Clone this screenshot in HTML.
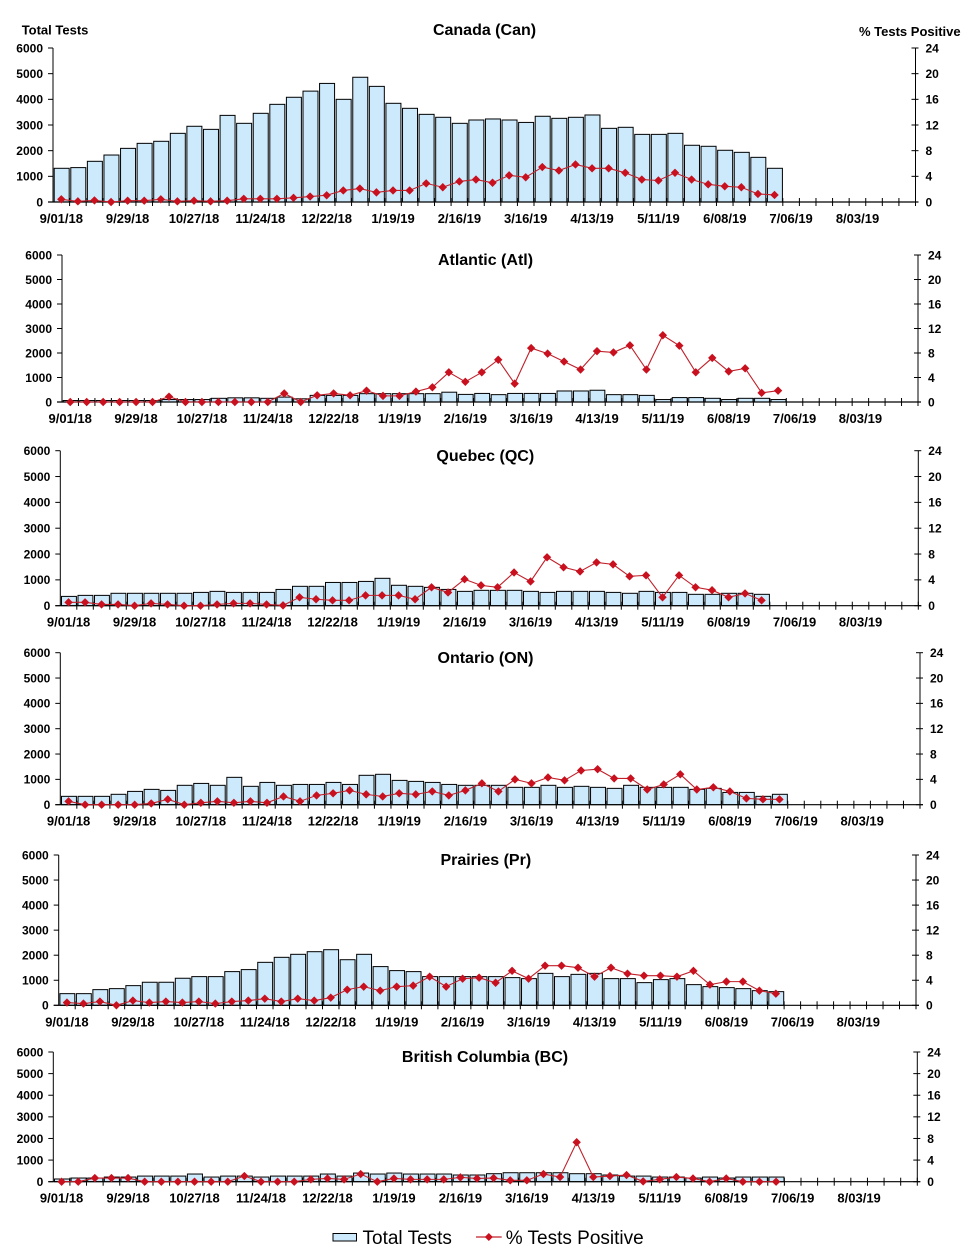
<!DOCTYPE html>
<html>
<head>
<meta charset="utf-8">
<style>
  html,body{margin:0;padding:0;background:#fff;}
  svg{display:block;}
  text{font-family:"Liberation Sans",Arial,sans-serif;fill:#000;}
  .b{font-weight:bold;}
  .yl{font-size:12px;font-weight:bold;text-anchor:end;}
  .yr{font-size:12px;font-weight:bold;text-anchor:start;}
  .xl{font-size:13px;font-weight:bold;text-anchor:middle;}
  .tt{font-size:16px;font-weight:bold;text-anchor:middle;}
</style>
</head>
<body>
<svg id="chart" width="971" height="1259" viewBox="0 0 971 1259" xmlns="http://www.w3.org/2000/svg">
<rect x="0" y="0" width="971" height="1259" fill="#fff"/>
<g id="shapes"></g>

<!-- Panel 1 Canada -->
<text class="b" x="21.7" y="34.5" font-size="13">Total Tests</text>
<text class="b" x="859" y="36" font-size="13">% Tests Positive</text>
<text class="tt" x="484.5" y="35">Canada (Can)</text>
<g class="yl">
<text class="yl" x="43" y="206.3">0</text><text class="yl" x="43" y="180.6">1000</text><text class="yl" x="43" y="155">2000</text><text class="yl" x="43" y="129.3">3000</text><text class="yl" x="43" y="103.6">4000</text><text class="yl" x="43" y="78">5000</text><text class="yl" x="43" y="52.3">6000</text>
</g>
<text class="yr" x="925.5" y="206.3">0</text><text class="yr" x="925.5" y="180.6">4</text><text class="yr" x="925.5" y="155">8</text><text class="yr" x="925.5" y="129.3">12</text><text class="yr" x="925.5" y="103.6">16</text><text class="yr" x="925.5" y="78">20</text><text class="yr" x="925.5" y="52.3">24</text>
<text class="xl" x="61.3" y="223">9/01/18</text><text class="xl" x="127.6" y="223">9/29/18</text><text class="xl" x="194" y="223">10/27/18</text><text class="xl" x="260.3" y="223">11/24/18</text><text class="xl" x="326.7" y="223">12/22/18</text><text class="xl" x="393" y="223">1/19/19</text><text class="xl" x="459.4" y="223">2/16/19</text><text class="xl" x="525.7" y="223">3/16/19</text><text class="xl" x="592.1" y="223">4/13/19</text><text class="xl" x="658.4" y="223">5/11/19</text><text class="xl" x="724.8" y="223">6/08/19</text><text class="xl" x="791.1" y="223">7/06/19</text><text class="xl" x="857.5" y="223">8/03/19</text>

<!-- Panel 2 Atlantic -->
<text class="tt" x="485.5" y="265">Atlantic (Atl)</text>
<text class="yl" x="52" y="406.3">0</text><text class="yl" x="52" y="381.8">1000</text><text class="yl" x="52" y="357.3">2000</text><text class="yl" x="52" y="332.8">3000</text><text class="yl" x="52" y="308.3">4000</text><text class="yl" x="52" y="283.8">5000</text><text class="yl" x="52" y="259.3">6000</text>
<text class="yr" x="928" y="406.3">0</text><text class="yr" x="928" y="381.8">4</text><text class="yr" x="928" y="357.3">8</text><text class="yr" x="928" y="332.8">12</text><text class="yr" x="928" y="308.3">16</text><text class="yr" x="928" y="283.8">20</text><text class="yr" x="928" y="259.3">24</text>
<text class="xl" x="70.2" y="423">9/01/18</text><text class="xl" x="136.1" y="423">9/29/18</text><text class="xl" x="201.9" y="423">10/27/18</text><text class="xl" x="267.8" y="423">11/24/18</text><text class="xl" x="333.6" y="423">12/22/18</text><text class="xl" x="399.5" y="423">1/19/19</text><text class="xl" x="465.3" y="423">2/16/19</text><text class="xl" x="531.2" y="423">3/16/19</text><text class="xl" x="597" y="423">4/13/19</text><text class="xl" x="662.9" y="423">5/11/19</text><text class="xl" x="728.7" y="423">6/08/19</text><text class="xl" x="794.6" y="423">7/06/19</text><text class="xl" x="860.4" y="423">8/03/19</text>

<!-- Panel 3 Quebec -->
<text class="tt" x="485.3" y="461">Quebec (QC)</text>
<text class="yl" x="50.3" y="610">0</text><text class="yl" x="50.3" y="584.2">1000</text><text class="yl" x="50.3" y="558.3">2000</text><text class="yl" x="50.3" y="532.5">3000</text><text class="yl" x="50.3" y="506.7">4000</text><text class="yl" x="50.3" y="480.8">5000</text><text class="yl" x="50.3" y="455">6000</text>
<text class="yr" x="928.3" y="610">0</text><text class="yr" x="928.3" y="584.2">4</text><text class="yr" x="928.3" y="558.3">8</text><text class="yr" x="928.3" y="532.5">12</text><text class="yr" x="928.3" y="506.7">16</text><text class="yr" x="928.3" y="480.8">20</text><text class="yr" x="928.3" y="455">24</text>
<text class="xl" x="68.6" y="626.7">9/01/18</text><text class="xl" x="134.6" y="626.7">9/29/18</text><text class="xl" x="200.6" y="626.7">10/27/18</text><text class="xl" x="266.6" y="626.7">11/24/18</text><text class="xl" x="332.6" y="626.7">12/22/18</text><text class="xl" x="398.6" y="626.7">1/19/19</text><text class="xl" x="464.6" y="626.7">2/16/19</text><text class="xl" x="530.6" y="626.7">3/16/19</text><text class="xl" x="596.6" y="626.7">4/13/19</text><text class="xl" x="662.6" y="626.7">5/11/19</text><text class="xl" x="728.6" y="626.7">6/08/19</text><text class="xl" x="794.6" y="626.7">7/06/19</text><text class="xl" x="860.6" y="626.7">8/03/19</text>

<!-- Panel 4 Ontario -->
<text class="tt" x="485.5" y="663">Ontario (ON)</text>
<text class="yl" x="50.3" y="809">0</text><text class="yl" x="50.3" y="783.7">1000</text><text class="yl" x="50.3" y="758.3">2000</text><text class="yl" x="50.3" y="733">3000</text><text class="yl" x="50.3" y="707.7">4000</text><text class="yl" x="50.3" y="682.3">5000</text><text class="yl" x="50.3" y="657">6000</text>
<text class="yr" x="930" y="809">0</text><text class="yr" x="930" y="783.7">4</text><text class="yr" x="930" y="758.3">8</text><text class="yr" x="930" y="733">12</text><text class="yr" x="930" y="707.7">16</text><text class="yr" x="930" y="682.3">20</text><text class="yr" x="930" y="657">24</text>
<text class="xl" x="68.6" y="825.7">9/01/18</text><text class="xl" x="134.7" y="825.7">9/29/18</text><text class="xl" x="200.8" y="825.7">10/27/18</text><text class="xl" x="267" y="825.7">11/24/18</text><text class="xl" x="333.1" y="825.7">12/22/18</text><text class="xl" x="399.2" y="825.7">1/19/19</text><text class="xl" x="465.4" y="825.7">2/16/19</text><text class="xl" x="531.5" y="825.7">3/16/19</text><text class="xl" x="597.6" y="825.7">4/13/19</text><text class="xl" x="663.8" y="825.7">5/11/19</text><text class="xl" x="729.9" y="825.7">6/08/19</text><text class="xl" x="796" y="825.7">7/06/19</text><text class="xl" x="862.2" y="825.7">8/03/19</text>

<!-- Panel 5 Prairies -->
<text class="tt" x="485.8" y="865">Prairies (Pr)</text>
<text class="yl" x="48.7" y="1009.6">0</text><text class="yl" x="48.7" y="984.6">1000</text><text class="yl" x="48.7" y="959.5">2000</text><text class="yl" x="48.7" y="934.5">3000</text><text class="yl" x="48.7" y="909.4">4000</text><text class="yl" x="48.7" y="884.4">5000</text><text class="yl" x="48.7" y="859.3">6000</text>
<text class="yr" x="926" y="1009.6">0</text><text class="yr" x="926" y="984.6">4</text><text class="yr" x="926" y="959.5">8</text><text class="yr" x="926" y="934.5">12</text><text class="yr" x="926" y="909.4">16</text><text class="yr" x="926" y="884.4">20</text><text class="yr" x="926" y="859.3">24</text>
<text class="xl" x="66.9" y="1026.3">9/01/18</text><text class="xl" x="132.9" y="1026.3">9/29/18</text><text class="xl" x="198.8" y="1026.3">10/27/18</text><text class="xl" x="264.8" y="1026.3">11/24/18</text><text class="xl" x="330.7" y="1026.3">12/22/18</text><text class="xl" x="396.7" y="1026.3">1/19/19</text><text class="xl" x="462.6" y="1026.3">2/16/19</text><text class="xl" x="528.6" y="1026.3">3/16/19</text><text class="xl" x="594.5" y="1026.3">4/13/19</text><text class="xl" x="660.5" y="1026.3">5/11/19</text><text class="xl" x="726.4" y="1026.3">6/08/19</text><text class="xl" x="792.4" y="1026.3">7/06/19</text><text class="xl" x="858.3" y="1026.3">8/03/19</text>

<!-- Panel 6 BC -->
<text class="tt" x="485" y="1062">British Columbia (BC)</text>
<text class="yl" x="43.3" y="1186">0</text><text class="yl" x="43.3" y="1164.4">1000</text><text class="yl" x="43.3" y="1142.8">2000</text><text class="yl" x="43.3" y="1121.2">3000</text><text class="yl" x="43.3" y="1099.5">4000</text><text class="yl" x="43.3" y="1077.9">5000</text><text class="yl" x="43.3" y="1056.3">6000</text>
<text class="yr" x="927.3" y="1186">0</text><text class="yr" x="927.3" y="1164.4">4</text><text class="yr" x="927.3" y="1142.8">8</text><text class="yr" x="927.3" y="1121.2">12</text><text class="yr" x="927.3" y="1099.5">16</text><text class="yr" x="927.3" y="1077.9">20</text><text class="yr" x="927.3" y="1056.3">24</text>
<text class="xl" x="61.6" y="1202.7">9/01/18</text><text class="xl" x="128.1" y="1202.7">9/29/18</text><text class="xl" x="194.5" y="1202.7">10/27/18</text><text class="xl" x="261" y="1202.7">11/24/18</text><text class="xl" x="327.5" y="1202.7">12/22/18</text><text class="xl" x="393.9" y="1202.7">1/19/19</text><text class="xl" x="460.4" y="1202.7">2/16/19</text><text class="xl" x="526.8" y="1202.7">3/16/19</text><text class="xl" x="593.3" y="1202.7">4/13/19</text><text class="xl" x="659.8" y="1202.7">5/11/19</text><text class="xl" x="726.2" y="1202.7">6/08/19</text><text class="xl" x="792.7" y="1202.7">7/06/19</text><text class="xl" x="859.1" y="1202.7">8/03/19</text>

<!-- Legend -->
<rect x="333" y="1233.5" width="23.5" height="7.5" fill="#cdeafc" stroke="#000" stroke-width="1"/>
<text x="362.5" y="1244" font-size="19">Total Tests</text>
<line x1="476" y1="1237" x2="501.7" y2="1237" stroke="#c0202a" stroke-width="1.2"/>
<polygon points="488.8,1233 492.8,1237 488.8,1241 484.8,1237" fill="#c8101e"/>
<text x="505.7" y="1244" font-size="19">% Tests Positive</text>
</svg>

<script>
(function(){
  var NS="http://www.w3.org/2000/svg";
  var g=document.getElementById("shapes");
  function el(tag,attrs,parent){var e=document.createElementNS(NS,tag);for(var k in attrs)e.setAttribute(k,attrs[k]);(parent||g).appendChild(e);return e;}
  var panels=[
    {L:53,R:915.5,T:48,B:202,
     bars:[1313,1340,1585,1830,2090,2285,2365,2675,2950,2830,3375,3065,3455,3805,4080,4320,4620,4000,4860,4505,3845,3650,3415,3300,3065,3195,3235,3195,3100,3340,3260,3300,3390,2870,2910,2635,2635,2675,2210,2170,2015,1935,1740,1313],
     pct:[0.42,0.1,0.25,0,0.2,0.2,0.42,0.1,0.2,0.1,0.2,0.5,0.5,0.5,0.65,0.85,1.05,1.8,2.1,1.5,1.8,1.8,2.9,2.3,3.2,3.5,3.0,4.15,3.85,5.45,4.9,5.85,5.25,5.25,4.55,3.5,3.35,4.55,3.5,2.75,2.45,2.3,1.25,1.1]},
    {L:62,R:918,T:255,B:402,
     bars:[60,60,60,60,60,60,100,100,100,150,170,170,150,200,130,270,270,270,340,340,340,340,340,400,310,350,300,350,350,350,450,450,480,300,300,270,100,180,180,150,100,150,150,100],
     pct:[0,0,0,0,0,0,0.87,0,0,0,0,0,0,1.4,0,1.1,1.4,1.1,1.85,1.0,1.0,1.7,2.4,4.85,3.3,4.85,6.9,3.0,8.8,7.9,6.6,5.3,8.3,8.1,9.25,5.3,10.9,9.2,4.85,7.2,5.0,5.5,1.5,1.85]},
    {L:60.3,R:918.3,T:450.7,B:605.7,
     bars:[360,400,400,480,480,480,480,480,515,555,515,515,515,630,750,750,900,900,940,1060,790,750,710,630,555,595,595,595,555,515,555,555,555,515,480,555,515,515,440,440,480,480,440],
     pct:[0.52,0.52,0.2,0.2,0,0.36,0.2,0,0,0.2,0.36,0.36,0.2,0.05,1.3,1.0,0.83,0.83,1.6,1.6,1.6,1.0,2.85,2.05,4.1,3.15,2.85,5.15,3.75,7.5,5.95,5.3,6.7,6.4,4.55,4.7,1.3,4.7,2.85,2.4,1.3,1.9,0.83]},
    {L:60.3,R:920,T:652.7,B:804.7,
     bars:[330,330,330,410,525,605,565,765,840,765,1080,725,880,765,800,800,880,800,1160,1200,960,920,880,800,765,765,765,685,685,765,685,725,685,645,765,685,685,685,605,645,485,485,330,410],
     pct:[0.53,0,0,0,0,0.2,0.85,0,0.3,0.53,0.3,0.53,0.3,1.3,0.53,1.47,1.8,2.26,1.63,1.3,1.8,1.63,2.1,1.47,2.26,3.37,2.1,4.0,3.37,4.3,3.85,5.4,5.6,4.15,4.15,2.4,3.2,4.8,2.4,2.75,2.1,1.0,0.85,0.85]},
    {L:58.7,R:916,T:855,B:1005.3,
     bars:[465,465,625,665,785,920,920,1080,1145,1145,1345,1425,1715,1915,2035,2140,2220,1820,2035,1545,1385,1345,1145,1145,1145,1145,1145,1105,1065,1275,1145,1235,1275,1065,1065,905,1025,1065,825,745,705,665,585,545],
     pct:[0.43,0.27,0.6,0,0.75,0.43,0.6,0.43,0.6,0.27,0.6,0.75,1.06,0.6,1.06,0.75,1.22,2.5,2.98,2.34,2.98,3.14,4.57,2.98,4.25,4.41,3.6,5.5,4.25,6.33,6.33,6.0,4.57,6.0,5.05,4.73,4.73,4.57,5.5,3.3,3.78,3.78,2.34,1.86]},
    {L:53.3,R:917.3,T:1052,B:1181.7,
     bars:[125,170,170,215,215,260,260,260,355,215,260,260,215,260,260,260,355,260,400,355,400,355,355,355,310,310,370,415,415,415,415,370,370,310,260,260,215,215,170,215,170,215,215,215],
     pct:[0,0,0.68,0.68,0.68,0,0,0,0,0,0,1.05,0,0,0,0.43,0.6,0.43,1.42,0,0.6,0.43,0.43,0.43,0.8,0.6,0.68,0.25,0.25,1.42,0.86,7.3,0.86,1.05,1.23,0.06,0.43,0.86,0.6,0,0.6,0,0,0]}
  ];
  panels.forEach(function(p){
    var w=(p.R-p.L)/52, H=p.B-p.T, i;
    for(i=0;i<p.bars.length;i++){
      var h=p.bars[i]/6000*H;
      el("rect",{x:(p.L+i*w+1.2).toFixed(2),y:(p.B-h).toFixed(2),width:(w-1.6).toFixed(2),height:h.toFixed(2),fill:"#cdeafc",stroke:"#000","stroke-width":"1"});
    }
    el("line",{x1:p.L,y1:p.T,x2:p.L,y2:p.B,stroke:"#000","stroke-width":"1"});
    el("line",{x1:p.R,y1:p.T,x2:p.R,y2:p.B,stroke:"#000","stroke-width":"1"});
    el("line",{x1:p.L-5,y1:p.B,x2:p.R+3,y2:p.B,stroke:"#000","stroke-width":"1.2"});
    for(i=0;i<=6;i++){
      var y=p.B-i*H/6;
      el("line",{x1:p.L-5,y1:y,x2:p.L,y2:y,stroke:"#000","stroke-width":"1"});
      el("line",{x1:p.R-4,y1:y,x2:p.R+3,y2:y,stroke:"#000","stroke-width":"1"});
    }
    for(i=1;i<=52;i++){
      var x=p.L+i*w;
      el("line",{x1:x,y1:p.B-4,x2:x,y2:p.B+4,stroke:"#000","stroke-width":"1"});
    }
    var pts=[];
    for(i=0;i<p.pct.length;i++){
      pts.push((p.L+(i+0.5)*w).toFixed(2)+","+(p.B-p.pct[i]/24*H).toFixed(2));
    }
    el("polyline",{points:pts.join(" "),fill:"none",stroke:"#c0202a","stroke-width":"1.1"});
    for(i=0;i<p.pct.length;i++){
      var cx=p.L+(i+0.5)*w, cy=p.B-p.pct[i]/24*H;
      el("polygon",{points:cx+","+(cy-4.2)+" "+(cx+4.2)+","+cy+" "+cx+","+(cy+4.2)+" "+(cx-4.2)+","+cy,fill:"#c8101e"});
    }
  });
})();
</script>
</body>
</html>
